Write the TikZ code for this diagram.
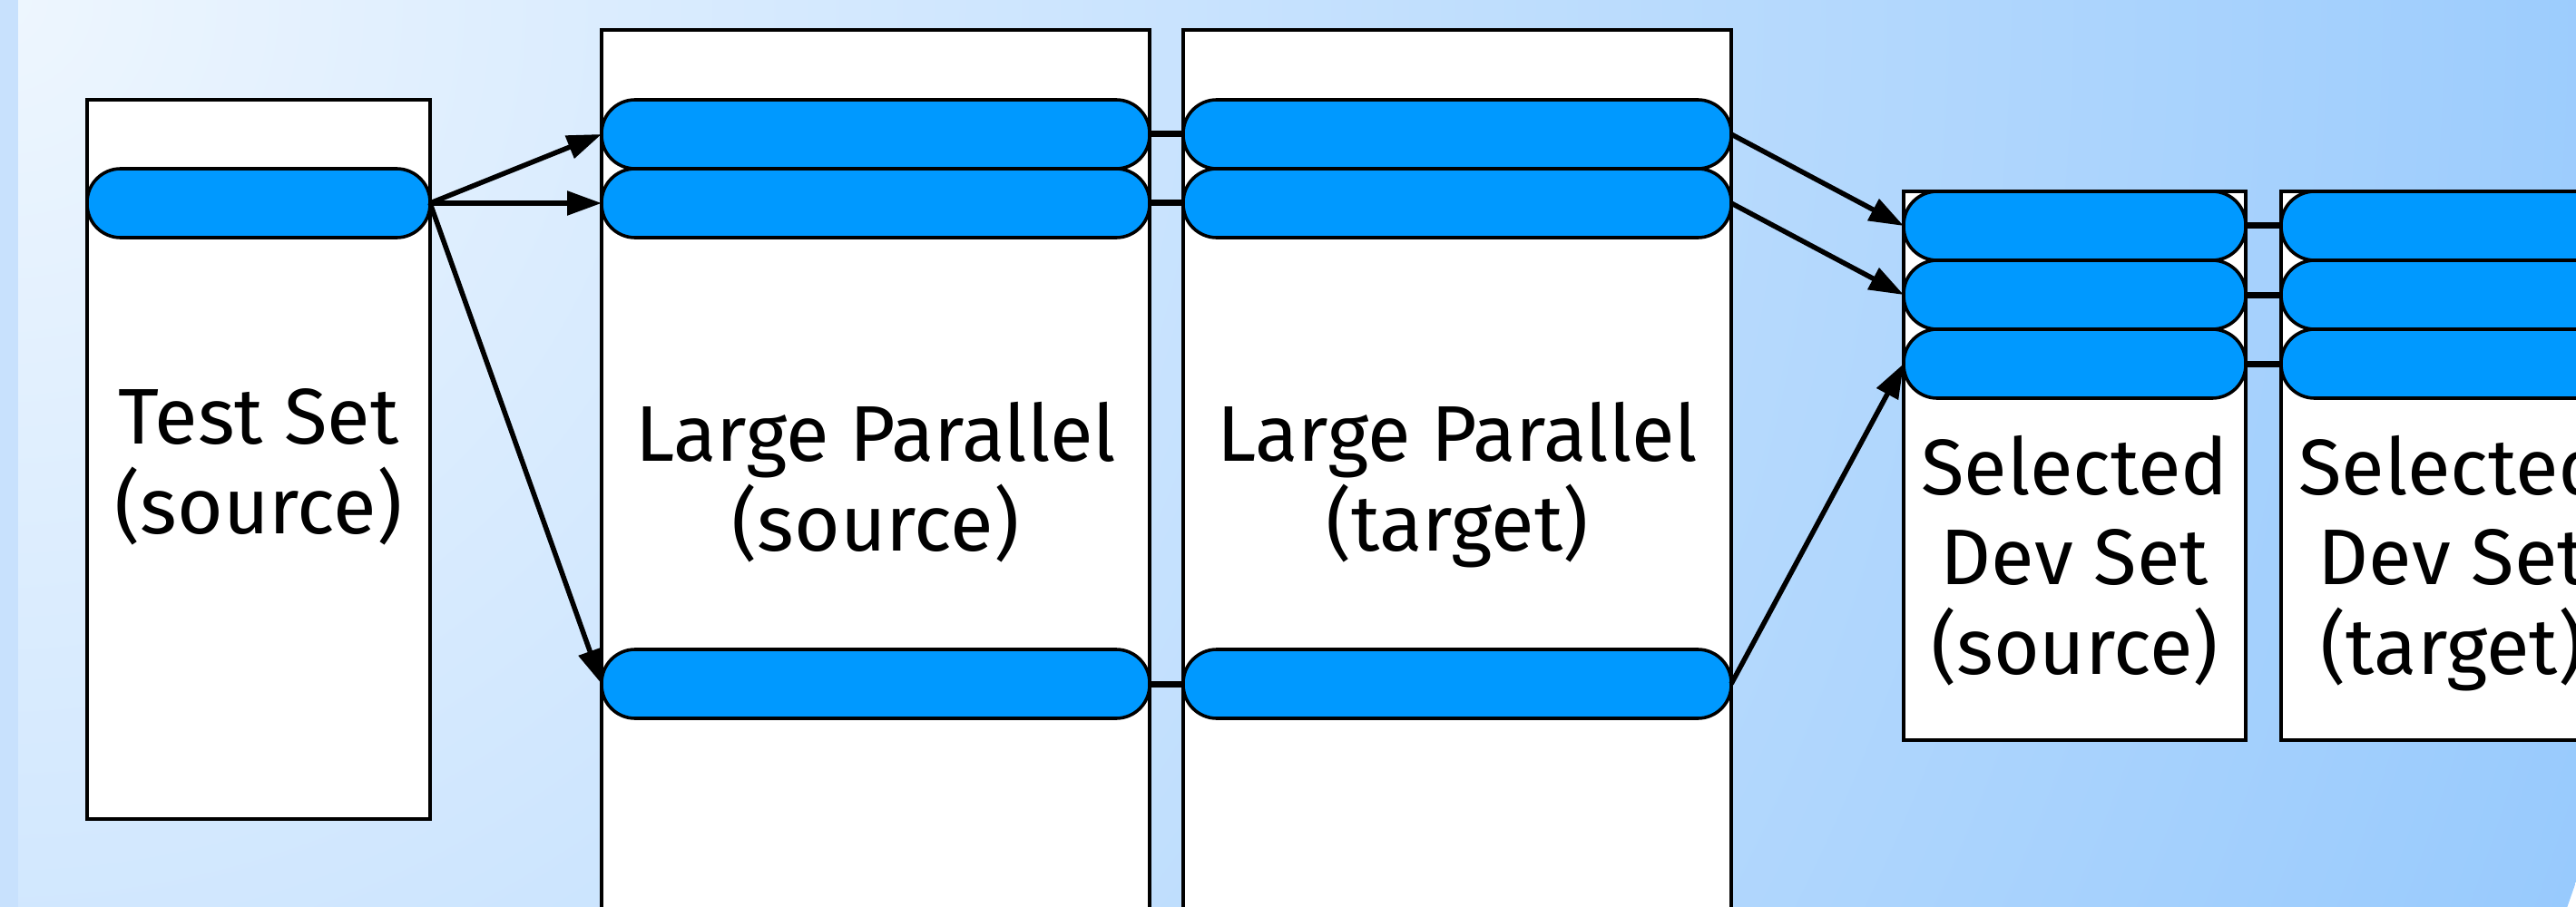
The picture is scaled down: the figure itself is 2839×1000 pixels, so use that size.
\documentclass[tikz,border=0pt]{standalone}
\usepackage{fontspec}
\setmainfont{Fira Sans}
\usetikzlibrary{arrows.meta}
\definecolor{bgin}{HTML}{EEF6FE}
\definecolor{bgout}{HTML}{98CAFD}
\definecolor{stripblue}{HTML}{C8E1FD}
\definecolor{pillblue}{HTML}{0099FF}
\begin{document}
\begin{tikzpicture}[x=1pt,y=-1pt,
  setbox/.style={draw=black, line width=3.2pt, fill=white, inner sep=0pt, outer sep=0pt, anchor=north west},
  pill/.style={draw=black, line width=3.6pt, fill=pillblue, rounded corners=37pt, inner sep=0pt, outer sep=0pt, minimum height=76pt},
  lbl/.style={font=\fontsize{87}{99}\selectfont, align=center, inner sep=0pt, anchor=base},
  flow/.style={line width=5.5pt, -{Triangle[length=38pt,width=26pt]}},
  link/.style={line width=7pt}]
\useasboundingbox (0,0) rectangle (2839,1000);
\clip (0,0) rectangle (2839,1000);
\shade[inner color=bgin, outer color=bgout] (0,0) circle (3000);
\fill[stripblue] (0,0) rectangle (20,1000);

% boxes
\node[setbox, minimum width=378pt, minimum height=793pt] (testbox) at (96,110) {};
\node[setbox, minimum width=604pt, minimum height=1040pt] (lpsbox) at (663,33) {};
\node[setbox, minimum width=604pt, minimum height=1040pt] (lptbox) at (1304,33) {};
\node[setbox, minimum width=377pt, minimum height=605pt] (dsbox) at (2098,211) {};
\node[setbox, minimum width=377pt, minimum height=605pt] (dtbox) at (2514,211) {};

% pills
\node[pill, minimum width=378pt] (testpill) at (285,224) {};
\foreach \n/\y in {1/148,2/224,3/754}{
  \node[pill, minimum width=604pt] (lps\n) at (965,\y) {};
  \node[pill, minimum width=604pt] (lpt\n) at (1606,\y) {};
}
\foreach \n/\y in {1/249,2/325,3/401}{
  \node[pill, minimum width=377pt] (ds\n) at (2286.5,\y) {};
  \node[pill, minimum width=377pt] (dt\n) at (2702.5,\y) {};
}

% labels (anchor=base is the baseline of the last line)
\node[lbl] (testlbl) at (285,588) {Test Set\\(source)};
\node[lbl] (lpslbl) at (965,607) {Large Parallel\\(source)};
\node[lbl] (lptlbl) at (1606,607) {Large Parallel\\(target)};
\node[lbl] (dslbl) at (2286.5,743) {Selected\\Dev Set\\(source)};
\node[lbl] (dtlbl) at (2702.5,743) {Selected\\Dev Set\\(target)};

% links between parallel pills
\foreach \n in {1,2,3}{
  \draw[link] (lps\n.east) -- (lpt\n.west);
  \draw[link] (ds\n.east) -- (dt\n.west);
}

% flows
\draw[flow] (testpill.east) -- (lps1.west);
\draw[flow] (testpill.east) -- (lps2.west);
\draw[flow] (testpill.east) -- (lps3.west);
\draw[flow] (lpt1.east) -- (ds1.west);
\draw[flow] (lpt2.east) -- (ds2.west);
\draw[flow] (lpt3.east) -- (ds3.west);
\end{tikzpicture}
\end{document}
